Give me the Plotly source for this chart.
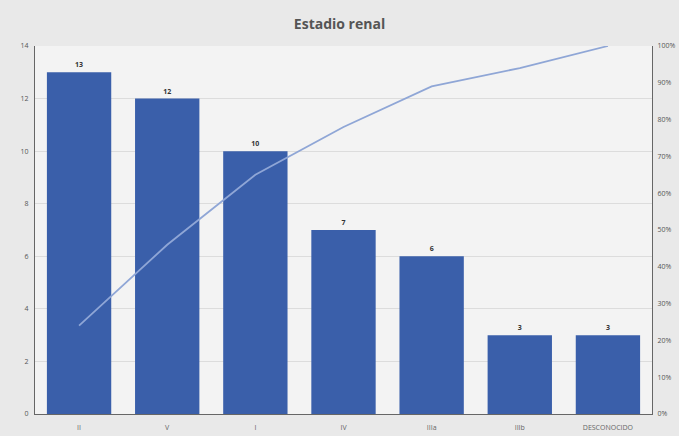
import plotly.graph_objects as go

categories = ["II", "V", "I", "IV", "IIIa", "IIIb", "DESCONOCIDO"]
counts = [13, 12, 10, 7, 6, 3, 3]
cum_pct = [24, 46, 65, 78, 89, 94, 100]
left_ticks = [0, 2, 4, 6, 8, 10, 12, 14]
right_ticks = [0, 10, 20, 30, 40, 50, 60, 70, 80, 90, 100]

fig = go.Figure()
fig.add_trace(go.Bar(
    x=categories, y=counts, marker=dict(color="#3a5faa", line=dict(width=0)),
    text=[f"<b>{v}</b>" for v in counts], textposition="outside",
    textfont=dict(size=7, color="#333333", family="Open Sans"),
    cliponaxis=False, showlegend=False,
))
fig.add_trace(go.Scatter(
    x=categories, y=cum_pct, yaxis="y2", mode="lines",
    line=dict(color="#8fa6d6", width=1.8), showlegend=False,
))

fig.update_layout(
    width=679, height=436,
    margin=dict(l=35, r=27, t=46, b=22),
    paper_bgcolor="#e9e9e9", plot_bgcolor="#f3f3f3",
    title=dict(text="<b>Estadio renal</b>", x=0.5, xanchor="center", y=0.945, yanchor="middle",
               font=dict(size=14, color="#555555", family="Open Sans")),
    bargap=0.27,
    xaxis=dict(showline=True, linecolor="#666666", linewidth=1, showgrid=False,
               tickfont=dict(size=7, color="#666666", family="Open Sans"), ticks="",
               ticklabelstandoff=7, automargin=False),
    yaxis=dict(range=[0, 14], tickvals=left_ticks, showline=True, linecolor="#666666", linewidth=1,
               gridcolor="#dcdcdc", gridwidth=1, zeroline=False,
               tickfont=dict(size=7, color="#555555", family="Open Sans"), ticks="",
               ticklabelstandoff=4, automargin=False),
    yaxis2=dict(range=[0, 100], tickvals=right_ticks, ticktext=[f"{v}%" for v in right_ticks],
                overlaying="y", side="right", showline=True, linecolor="#666666", linewidth=1,
                showgrid=False, zeroline=False,
                tickfont=dict(size=7, color="#555555", family="Open Sans"), ticks="",
                ticklabelstandoff=3, automargin=False),
)
fig.write_html("out.html")
